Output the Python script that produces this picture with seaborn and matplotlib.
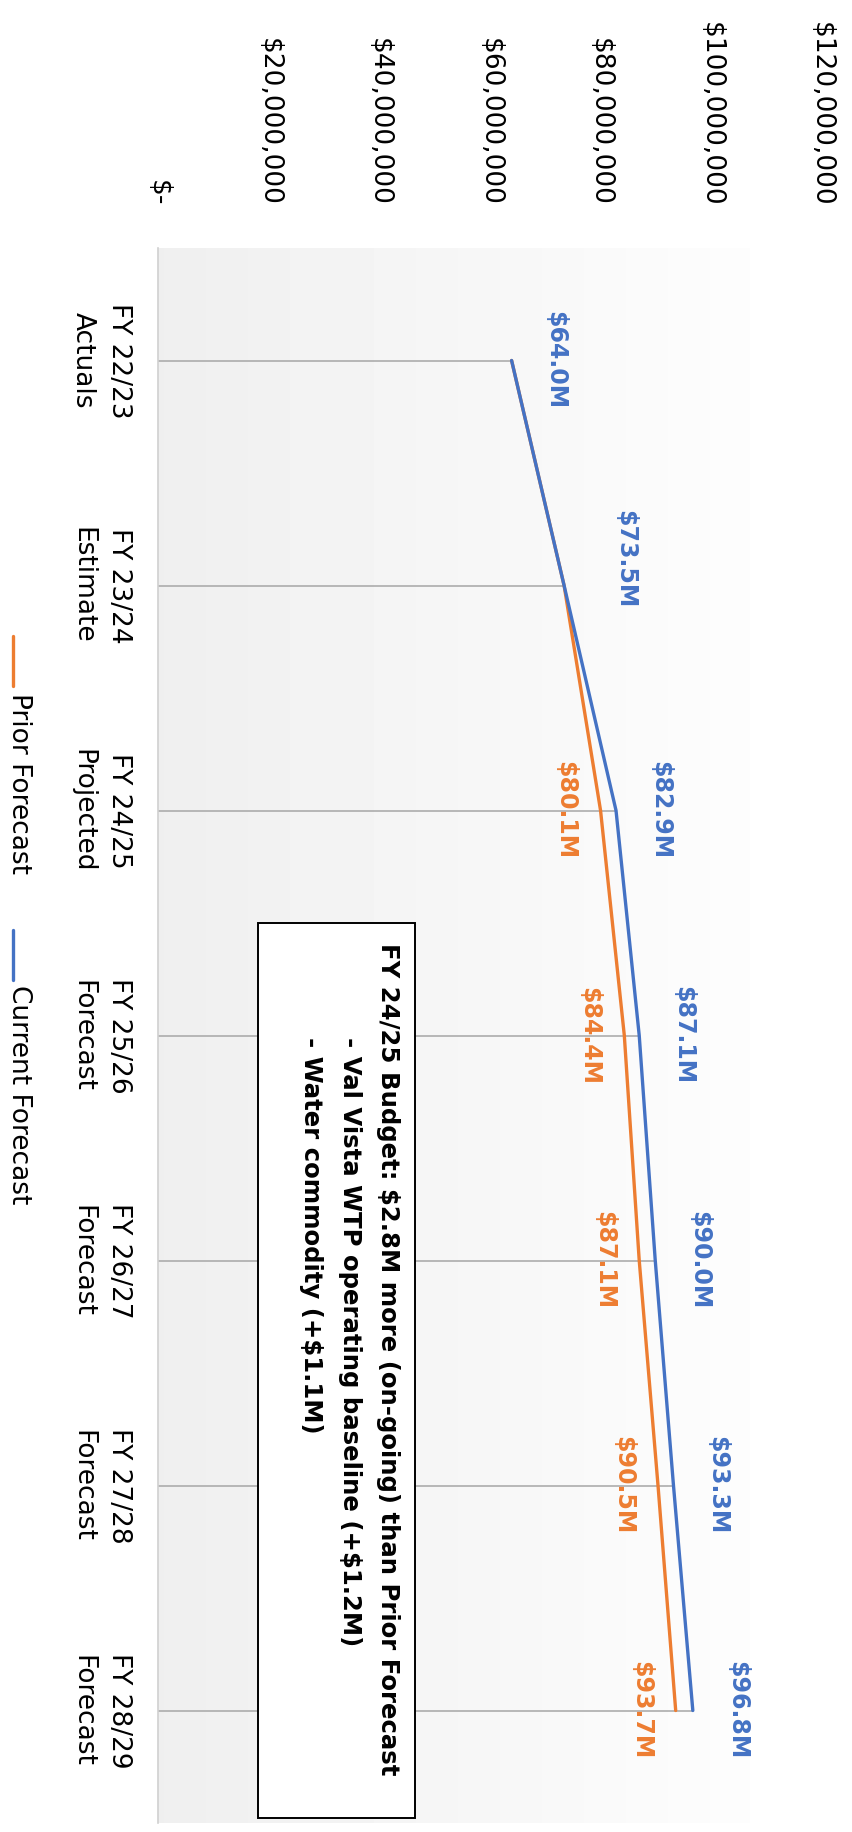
import numpy as np
import pandas as pd
import matplotlib
matplotlib.use("Agg")
import matplotlib.pyplot as plt
import seaborn as sns
from matplotlib.lines import Line2D
from matplotlib.patches import Rectangle

# ---- data -------------------------------------------------------------
categories = ["FY 22/23\nActuals", "FY 23/24\nEstimate", "FY 24/25\nProjected",
              "FY 25/26\nForecast", "FY 26/27\nForecast", "FY 27/28\nForecast",
              "FY 28/29\nForecast"]
prior_forecast = [64.0, 73.5, 80.1, 84.4, 87.1, 90.5, 93.7]      # $M
current_forecast = [64.0, 73.5, 82.9, 87.1, 90.0, 93.3, 96.8]    # $M
series_names = ["Prior Forecast", "Current Forecast"]
value_ticks = [0, 20e6, 40e6, 60e6, 80e6, 100e6, 120e6]
value_tick_labels = ["$-", "$20,000,000", "$40,000,000", "$60,000,000",
                     "$80,000,000", "$100,000,000", "$120,000,000"]
prior_first_labelled = 2
note_lines = ["FY 24/25 Budget: $2.8M more (on-going) than Prior Forecast",
              "- Val Vista WTP operating baseline (+$1.2M)",
              "- Water commodity (+$1.1M)"]

# ---- style ------------------------------------------------------------
ORANGE = "#ED7D31"
BLUE = "#4472C4"
DROP = "#a6a6a6"
FS = 19          # regular text
FS_BOLD = 17     # data labels
FS_NOTE = 17.6   # note box

sns.set_theme(style="white")
plt.rcParams["font.family"] = ["DejaVu Sans"]

W, H = 852, 1832
fig = plt.figure(figsize=(W / 100, H / 100), dpi=100)
fig.patch.set_facecolor("white")


def fx(px):
    return px / W


def fy(py):
    return 1 - py / H


# the chart is laid on its side: values run left->right, years run downward
ax = fig.add_axes([fx(158), fy(1823), fx(821) - fx(158), fy(248) - fy(1823)])

pos = np.arange(len(categories))
xmax = value_ticks[-1]

# plot-area gradient fill (grey at the axis fading to white)
frac = np.linspace(0, 1, 663)
fade_end = 0.893
shade = np.where(frac < fade_end, 0.937 + (0.992 - 0.937) * frac / fade_end, 1.0)
ax.imshow(np.tile(shade, (2, 1)), cmap="gray", vmin=0, vmax=1,
          extent=[0, xmax, len(categories) - 0.5, -0.5], aspect="auto",
          interpolation="nearest", zorder=0)

# drop lines from the axis to the higher series
tops = np.maximum(prior_forecast, current_forecast) * 1e6
ax.hlines(pos, 0, tops, color=DROP, lw=1.1, zorder=1)

df = pd.DataFrame({
    "pos": np.concatenate([pos, pos]),
    "value": np.concatenate([np.array(prior_forecast), np.array(current_forecast)]) * 1e6,
    "series": [series_names[0]] * len(pos) + [series_names[1]] * len(pos),
})
sns.lineplot(data=df, x="value", y="pos", hue="series", hue_order=series_names,
             palette=[ORANGE, BLUE], orient="y", errorbar=None, linewidth=2.4,
             legend=False, ax=ax, zorder=3)

ax.set_xlim(0, xmax)
ax.set_ylim(len(categories) - 0.5, -0.5)

# value axis along the top
ax.xaxis.set_ticks_position("top")
ax.set_xticks(value_ticks)
ax.set_xticklabels(value_tick_labels, rotation=-90, ha="center", va="bottom",
                   fontsize=FS, color="black")
ax.tick_params(axis="x", length=0, pad=30)

# category axis on the left
ax.set_yticks(pos)
ax.set_yticklabels(categories, rotation=-90, ha="right", va="center",
                   fontsize=FS, color="black")
for t in ax.get_yticklabels():
    t.set_multialignment("center")
    t.set_linespacing(1.5)
ax.tick_params(axis="y", length=0, pad=19)
ax.set_xlabel("")
ax.set_ylabel("")

for side in ["top", "right", "bottom"]:
    ax.spines[side].set_visible(False)
ax.spines["left"].set_color("#d0d0d0")
ax.spines["left"].set_linewidth(1.2)
ax.grid(False)

# data labels
PT = 0.72  # points per pixel at 100 dpi
for i, v in enumerate(current_forecast):
    dx, dy = 44, 0
    if i == 1:
        dx, dy = 61, 26
    ax.annotate(f"${v:.1f}M", (v * 1e6, i), xytext=(dx * PT, dy * PT),
                textcoords="offset points", rotation=-90, ha="center",
                va="center", fontsize=FS_BOLD, fontweight="bold", color=BLUE,
                zorder=5)
for i, v in enumerate(prior_forecast):
    if i < prior_first_labelled:
        continue
    ax.annotate(f"${v:.1f}M", (v * 1e6, i), xytext=(-35 * PT, 0),
                textcoords="offset points", rotation=-90, ha="center",
                va="center", fontsize=FS_BOLD, fontweight="bold", color=ORANGE,
                zorder=5)

# note box
ax.add_patch(Rectangle((fx(258), fy(1818)), fx(415) - fx(258), fy(923) - fy(1818),
                       transform=fig.transFigure, facecolor="white",
                       edgecolor="black", lw=1.4, zorder=4, clip_on=False))
note_x = [388, 350, 311]
note_y = [943, 1037, 1037]
for line, px, py in zip(note_lines, note_x, note_y):
    ax.text(fx(px), fy(py), line, transform=fig.transFigure, rotation=-90,
            ha="center", va="top", fontsize=FS_NOTE, fontweight="bold",
            color="black", zorder=6)

# legend down the left edge
legend_rows = [(series_names[0], ORANGE, 636, 686, 693),
               (series_names[1], BLUE, 930, 980, 985)]
for name, col, y0, y1, ytxt in legend_rows:
    fig.add_artist(Line2D([fx(13), fx(13)], [fy(y0), fy(y1)], color=col, lw=2.4,
                          transform=fig.transFigure))
    fig.text(fx(19), fy(ytxt), name, rotation=-90, ha="center", va="top",
             fontsize=FS, color="black")

fig.savefig("out.png", dpi=100, facecolor="white")
